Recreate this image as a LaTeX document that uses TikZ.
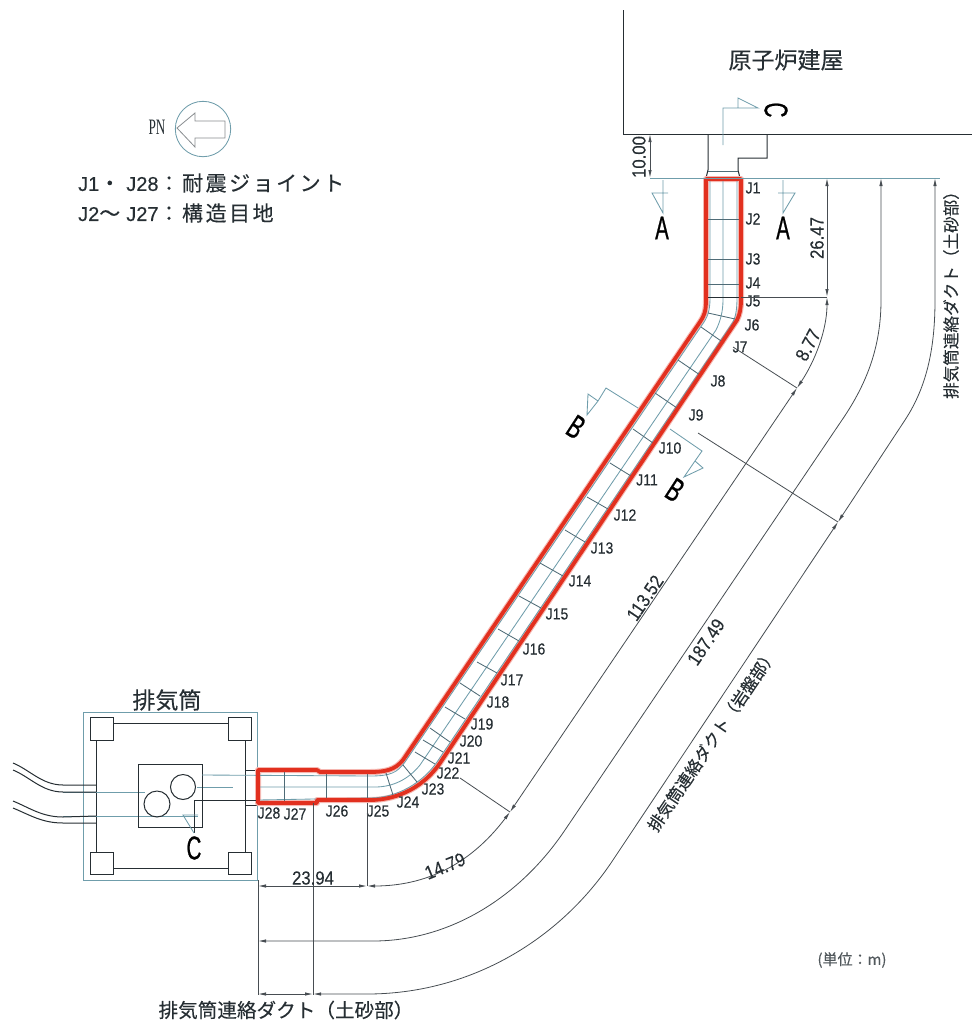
\documentclass[tikz,border=0pt]{standalone}
\usepackage{fontspec}
\setmainfont{Liberation Sans}
\newfontfamily\jfont[FakeBold=0.25]{Noto Sans CJK JP}
\newfontfamily\jwide[LetterSpace=12,FakeBold=0.25]{Noto Sans CJK JP}
\newfontfamily\latinfont[FakeBold=0.25]{Liberation Sans}
\newfontfamily\numfont[FakeStretch=0.88,FakeBold=0.25]{Liberation Sans}
\newfontfamily\secfont[FakeStretch=0.62,FakeBold=0.6]{Liberation Sans}
\newfontfamily\pnfont[FakeStretch=0.6]{Liberation Serif}
\usetikzlibrary{arrows.meta}
\definecolor{inkline}{HTML}{262E33}
\definecolor{tealline}{HTML}{6F9DAB}
\definecolor{jointline}{HTML}{4F6B76}
\definecolor{ductred}{HTML}{E2301F}
\tikzset{
    dark/.style={draw=inkline, line width=1pt},
    thin line/.style={draw=tealline, line width=0.85pt},
    joint/.style={draw=jointline, line width=0.85pt},
    dimthin/.style={draw=inkline!85, line width=0.8pt},
    dimline/.style={dimthin, {Latex[length=8pt,width=3.4pt]}-{Latex[length=8pt,width=3.4pt]}},
    duct/.style={draw=ductred, line width=3.8pt, line join=round},
    ducthalo/.style={draw=ductred!35, line width=6pt, line join=round},
    jlabel/.style={inner sep=0pt, text=inkline, font=\numfont\fontsize{16}{16}\selectfont},
    dimlabel/.style={inner sep=0pt, text=inkline, font=\numfont\fontsize{19}{19}\selectfont},
    seclabel/.style={inner sep=0pt, text=black, font=\secfont\fontsize{33}{33}\selectfont},
    jptitle/.style={inner sep=0pt, text=inkline, font=\jfont\fontsize{23}{23}\selectfont},
    jpnote/.style={inner sep=0pt, text=inkline, font=\jfont\fontsize{16.6}{17}\selectfont},
    legend/.style={anchor=west, inner sep=0pt, text=inkline, font=\latinfont\fontsize{20}{20}\selectfont}
}
\newcommand{\ductpath}{(706,179) -- (741,179) -- (741,300) .. controls (741,308) and (740,314) .. (737,320) -- (440,763) .. controls (425,785) and (400,800) .. (370,800) -- (317,800) -- (317,803) -- (258,803) -- (258,770) -- (317,770) -- (320,772) -- (370,772) .. controls (385,772) and (395,770) .. (403,760) -- (700,322) .. controls (704,316) and (706,312) .. (706,300) -- cycle}
\begin{document}
\begin{tikzpicture}[x=1pt,y=-1pt]
    \useasboundingbox (0,0) rectangle (972,1023);

    % building and the stub under it
    \draw[dark] (623,10) -- (623,134) -- (972,134);
    \draw[dark] (708,134) -- (708,170) -- (706,178);
    \draw[dark] (767,134) -- (767,158) -- (738,158) -- (738,170) -- (740,178);
    \draw[joint] (708,171) -- (738,171);
    \node[jptitle] (reactor) at (786,60) {原子炉建屋};

    % north mark and legend
    \node[inner sep=0pt, text=inkline, font=\pnfont\fontsize{22}{22}\selectfont] (pn) at (157,127) {PN};
    \draw[thin line] (203,129) circle (27.7);
    \draw[draw=inkline!55, line width=0.8pt] (177,128) -- (195,113) -- (195,121) -- (225,121) -- (225,138) -- (195,138) -- (195,147) -- cycle;
    \node[legend] (legend1) at (78,183) {J1{\jwide\fontsize{21}{21}\selectfont ・}\hspace{6pt}J28{\jwide\fontsize{21}{21}\selectfont ：耐震ジョイント}};
    \node[legend] (legend2) at (78,213) {J2{\jwide\fontsize{21}{21}\selectfont ～}\hspace{6pt}J27{\jwide\fontsize{21}{21}\selectfont ：構造目地}};

    % stack
    \node[jptitle] (stack) at (167,700) {排気筒};
    \draw[thin line] (83,712) rectangle (257,880);
    \draw[dark] (96,723) -- (245,723) -- (245,868) -- (96,868) -- cycle;
    \draw[dark, fill=white] (90,717) rectangle (113,740);
    \draw[dark, fill=white] (228,717) rectangle (251,740);
    \draw[dark, fill=white] (90,852) rectangle (113,874);
    \draw[dark, fill=white] (228,852) rectangle (251,874);
    \draw[thin line] (63,792) -- (145,792);
    \draw[thin line] (63,816) -- (198,816);
    \draw[thin line] (197,787) -- (233,787);
    \draw[dark] (138,764) rectangle (202,827);
    \draw[dark] (183,787) circle (12.5);
    \draw[dark] (157,804) circle (13);
    \draw[dark] (13,763) .. controls (30,770) and (42,785) .. (63,785) -- (96,785);
    \draw[dark] (13,770) .. controls (30,777) and (42,792) .. (63,792) -- (96,792);
    \draw[dark] (13,801) .. controls (30,808) and (42,817) .. (63,817) -- (96,816);
    \draw[dark] (13,808) .. controls (30,815) and (42,823) .. (63,823) -- (96,823);
    \draw[dark] (245,770) -- (258,770);
    \draw[dark] (245,805) -- (258,805);

    % inner lines of the duct
    \draw[ducthalo] \ductpath;
    \draw[thin line] (710,179) -- (710,298) .. controls (710,312) and (707,318) .. (702,325) -- (405,762) .. controls (397,773) and (390,776) .. (370,776) -- (202,775);
    \draw[thin line] (723,179) -- (723,300) .. controls (723,312) and (720,322) .. (716,330) -- (420,765) .. controls (408,780) and (392,787) .. (375,787) -- (258,787);
    \draw[thin line] (737,179) -- (737,298) .. controls (737,308) and (736,316) .. (733,322) -- (437,762) .. controls (423,782) and (398,798) .. (370,798) -- (258,800);
    \draw[dark] (258,800) -- (195,800);

    % joints
    \draw[joint] (706,219) -- (741,219);
    \draw[joint] (706,259) -- (741,259);
    \draw[joint] (706,284) -- (741,284);
    \draw[dark] (706,297) -- (741,297);
    \draw[joint] (708,313) -- (735,319);
    \draw[joint] (701,327) -- (724,343);
    \draw[joint] (678,360) -- (700,375);
    \draw[joint] (655,393) -- (677,408);
    \draw[joint] (633,429) -- (653,443);
    \draw[joint] (610,463) -- (631,476);
    \draw[joint] (587,497) -- (608,509);
    \draw[joint] (565,530) -- (585,542);
    \draw[joint] (540,563) -- (563,576);
    \draw[joint] (519,596) -- (541,608);
    \draw[joint] (498,629) -- (519,641);
    \draw[joint] (477,662) -- (497,673);
    \draw[joint] (460,683) -- (480,696);
    \draw[joint] (445,707) -- (465,719);
    \draw[joint] (430,728) -- (450,742);
    \draw[joint] (423,740) -- (443,752);
    \draw[joint] (415,752) -- (435,764);
    \draw[joint] (403,765) -- (417,782);
    \draw[joint] (386,773) -- (393,795);
    \draw[joint] (367,772) -- (367,800);
    \draw[joint] (326,772) -- (326,800);
    \draw[joint] (284,771) -- (284,803);

    % red outline of the duct
    \draw[duct] \ductpath;

    % joint labels
    \node[jlabel] (j1) at (753,188) {J1};
    \node[jlabel] (j2) at (753,219) {J2};
    \node[jlabel] (j3) at (753,259) {J3};
    \node[jlabel] (j4) at (753,283) {J4};
    \node[jlabel] (j5) at (753,301) {J5};
    \node[jlabel] (j6) at (752,325) {J6};
    \node[jlabel] (j7) at (740,347) {J7};
    \node[jlabel] (j8) at (718,381) {J8};
    \node[jlabel] (j9) at (696,415) {J9};
    \node[jlabel] (j10) at (670,448) {J10};
    \node[jlabel] (j11) at (647,480) {J11};
    \node[jlabel] (j12) at (625,515) {J12};
    \node[jlabel] (j13) at (602,548) {J13};
    \node[jlabel] (j14) at (580,581) {J14};
    \node[jlabel] (j15) at (557,614) {J15};
    \node[jlabel] (j16) at (534,649) {J16};
    \node[jlabel] (j17) at (512,680) {J17};
    \node[jlabel] (j18) at (498,702) {J18};
    \node[jlabel] (j19) at (482,724) {J19};
    \node[jlabel] (j20) at (471,741) {J20};
    \node[jlabel] (j21) at (459,758) {J21};
    \node[jlabel] (j22) at (448,773) {J22};
    \node[jlabel] (j23) at (433,789) {J23};
    \node[jlabel] (j24) at (408,802) {J24};
    \node[jlabel] (j25) at (378,811) {J25};
    \node[jlabel] (j26) at (337,811) {J26};
    \node[jlabel] (j27) at (295,814) {J27};
    \node[jlabel] (j28) at (269,813) {J28};

    % section marks
    \draw[thin line] (663,180) -- (663,213) -- (652,193) -- (668,193);
    \draw[thin line] (783,180) -- (783,213) -- (795,193) -- (778,193);
    \node[seclabel] (a1) at (662,228) {A};
    \node[seclabel] (a2) at (783,228) {A};
    \draw[thin line] (723,145) -- (723,108) -- (758,108) -- (738,98) -- (738,108);
    \node[seclabel, rotate=-90] (c1) at (776,110) {C};
    \draw[dark] (194,800) -- (194,833);
    \draw[thin line] (194,833) -- (183,815) -- (198,815);
    \node[seclabel] (c2) at (194,848) {C};
    \draw[thin line] (638,408) -- (606,388) -- (598,401) -- (588,394) -- (587,415) -- (598,401);
    \node[seclabel, rotate=-33] (b1) at (576,427) {B};
    \draw[thin line] (670,429) -- (702,451) -- (695,461) -- (703,468) -- (684,477) -- (695,461);
    \node[seclabel, rotate=-33] (b2) at (675,490) {B};

    % extension lines
    \draw[thin line] (650,178) -- (940,178);
    \draw[dimline] (650,134) -- (650,178);
    \node[dimlabel, rotate=90] (d10) at (639,157) {10.00};
    \draw[dimthin] (741,297) -- (827,297);
    \draw[dimthin] (733,347) -- (797,388);
    \draw[dimthin] (460,778) -- (510,812);
    \draw[dimthin] (698,433) -- (838,522);
    \draw[dimthin] (367,803) -- (367,886);
    \draw[dimthin] (313,803) -- (313,995);
    \draw[dimthin] (258,880) -- (258,995);

    % inner dimension run
    \draw[dimline] (827,178) -- (827,297);
    \draw[dimline] (827,297) .. controls (827,330) and (815,361) .. (797,388);
    \draw[dimline] (797,388) -- (510,812);
    \draw[dimline] (510,812) .. controls (470,865) and (425,886) .. (367,886);
    \draw[dimline] (367,886) -- (258,886);
    \node[dimlabel, rotate=90] (d26) at (817,238) {26.47};
    \node[dimlabel, rotate=62] (d8) at (808,345) {8.77};
    \node[dimlabel, rotate=56] (d113) at (645,598) {113.52};
    \node[dimlabel, rotate=22] (d14) at (445,866) {14.79};
    \node[dimlabel] (d23) at (313,878) {23.94};

    % middle dimension run
    \draw[dimline] (881,178) -- (881,300) .. controls (881,345) and (868,382) .. (842,420) -- (565,830) .. controls (520,897) and (450,941) .. (373,941) -- (258,941);
    \node[dimlabel, rotate=56] (d187) at (706,642) {187.49};

    % outer dimension run
    \draw[dimline] (935,178) -- (935,300) .. controls (935,345) and (928,385) .. (905,420) -- (838,522);
    \draw[dimline] (838,522) -- (613,860) .. controls (560,940) and (470,994) .. (367,994) -- (313,994);
    \draw[dimline] (313,994) -- (258,994);

    % duct names and unit
    \node[jpnote, rotate=90] (soilright) at (951,291) {排気筒連絡ダクト（土砂部）};
    \node[jpnote, rotate=56] (rock) at (712,740) {排気筒連絡ダクト（岩盤部）};
    \node[jptitle, font=\jfont\fontsize{19.6}{20}\selectfont] (soilbottom) at (286,1010) {排気筒連絡ダクト（土砂部）};
    \node[inner sep=0pt, text=inkline!80, font=\jfont\fontsize{15}{15}\selectfont] (unit) at (852,960) {(単位：m)};
\end{tikzpicture}
\end{document}
